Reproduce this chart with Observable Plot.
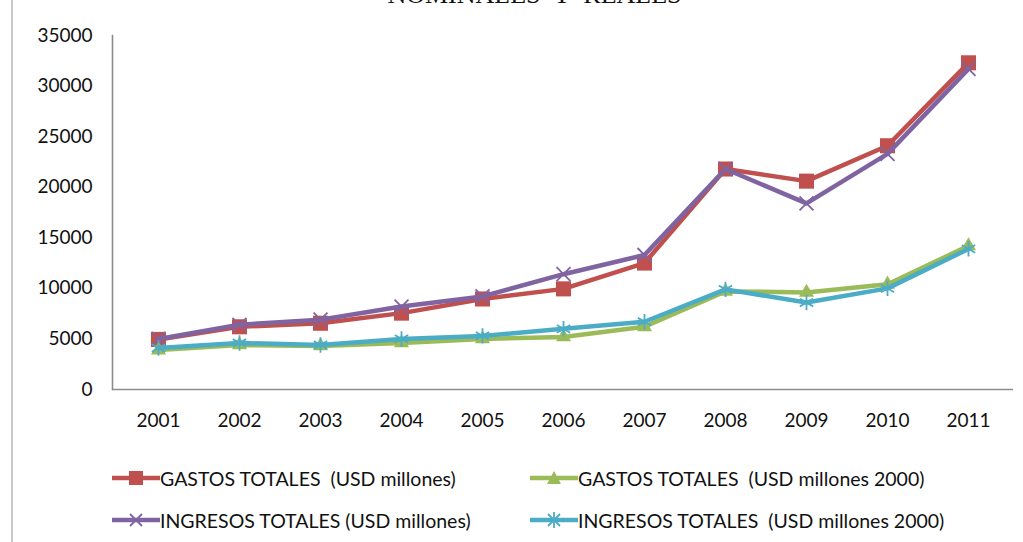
<!DOCTYPE html>
<html>
<head>
<meta charset="utf-8">
<script src="https://cdn.jsdelivr.net/npm/d3@7"></script>
<script src="https://cdn.jsdelivr.net/npm/@observablehq/plot@0.6"></script>
<style>
  html, body { margin: 0; padding: 0; background: #fff; }
  body { width: 1023px; height: 542px; position: relative; overflow: hidden; font-family: Lato, "Open Sans", sans-serif; }
  #border { position: absolute; left: 11px; top: 0; width: 2px; height: 542px; background: #c9c9c9; }
  #title { position: absolute; left: 23px; width: 1023px; top: -18px; text-align: center; font-family: "Liberation Serif", "DejaVu Serif", serif; font-size: 26px; line-height: 26px; color: #111; white-space: pre; }
  #chart { position: absolute; left: 0; top: 0; }
  .leg { position: absolute; display: flex; align-items: center; font-size: 19.5px; color: #111; white-space: pre; }
  .leg svg { display: block; }
</style>
</head>
<body>
<div id="border"></div>
<div id="title">NOMINALES  Y  REALES</div>
<div id="chart"></div>
<div id="legend"></div>
<script>
const years = ["2001","2002","2003","2004","2005","2006","2007","2008","2009","2010","2011"];
const gastosNominal   = [4950, 6200, 6550, 7550, 8950, 9950, 12500, 21800, 20600, 24100, 32300];
const gastosReal      = [3900, 4400, 4300, 4600, 5000, 5200, 6200, 9700, 9600, 10400, 14200];
const ingresosNominal = [5000, 6400, 6900, 8200, 9200, 11400, 13300, 21800, 18400, 23300, 31700];
const ingresosReal    = [4100, 4600, 4400, 5000, 5300, 6000, 6700, 9900, 8600, 10000, 13900];
const seriesNames = [
  "GASTOS TOTALES  (USD millones)",
  "GASTOS TOTALES  (USD millones 2000)",
  "INGRESOS TOTALES (USD millones)",
  "INGRESOS TOTALES  (USD millones 2000)"
];
const seriesValues = [gastosNominal, gastosReal, ingresosNominal, ingresosReal];
const seriesColors = ["#C0504D", "#9BBB59", "#8064A2", "#4BACC6"];
const seriesSymbols = ["square", "triangle", "times", "asterisk"];
const yTicks = [0, 5000, 10000, 15000, 20000, 25000, 30000, 35000];

const rows = [];
seriesNames.forEach((name, i) => {
  years.forEach((yr, j) => rows.push({series: name, idx: i, year: yr, value: seriesValues[i][j]}));
});

const marks = [
  Plot.ruleY([0], {stroke: "#8c8c8c", strokeWidth: 1.6}),
  Plot.frame({anchor: "left", stroke: "#8c8c8c", strokeWidth: 1.6}),
  Plot.axisY({ticks: yTicks, tickSize: 0, tickPadding: 20, tickFormat: d3.format("d"), fontSize: 19, fill: "#111"}),
  Plot.axisX({tickSize: 0, tickPadding: 24, fontSize: 19, fill: "#111"})
];
seriesNames.forEach((name, i) => {
  const d = rows.filter(r => r.idx === i);
  marks.push(Plot.line(d, {x: "year", y: "value", stroke: seriesColors[i], strokeWidth: 4.5, strokeLinejoin: "round"}));
  const sym = seriesSymbols[i];
  const filled = sym === "square" || sym === "triangle";
  const rr = {square: 8.5, triangle: 5.6, times: 6.4, asterisk: 7.3}[sym];
  marks.push(Plot.dot(d, filled
    ? {x: "year", y: "value", symbol: sym, r: rr, fill: seriesColors[i], stroke: "none"}
    : {x: "year", y: "value", symbol: sym, r: rr, stroke: seriesColors[i], strokeWidth: 1.8, fill: "none"}));
});

const chart = Plot.plot({
  width: 1023,
  height: 440,
  marginLeft: 112,
  marginRight: 10,
  marginTop: 35,
  marginBottom: 51,
  style: {fontFamily: "Lato, 'Open Sans', sans-serif", background: "transparent"},
  x: {type: "point", domain: years, padding: 0.5, label: null},
  y: {domain: [0, 35000], label: null},
  marks
});
document.getElementById("chart").appendChild(chart);

// legend
const legendPos = [[112, 478], [530, 478], [112, 520], [530, 520]];
const legend = document.getElementById("legend");
seriesNames.forEach((name, i) => {
  const el = document.createElement("div");
  el.className = "leg";
  el.style.left = legendPos[i][0] + "px";
  el.style.top = (legendPos[i][1] - 12) + "px";
  el.style.height = "24px";
  const c = seriesColors[i];
  let marker = "";
  if (seriesSymbols[i] === "square") marker = `<rect x="17" y="5" width="14" height="14" fill="${c}"/>`;
  if (seriesSymbols[i] === "triangle") marker = `<path d="M24,5 L31,18 L17,18 Z" fill="${c}"/>`;
  if (seriesSymbols[i] === "times") marker = `<path d="M18,6 L30,18 M30,6 L18,18" stroke="${c}" stroke-width="1.8"/>`;
  if (seriesSymbols[i] === "asterisk") marker = `<path d="M18,6 L30,18 M30,6 L18,18 M24,4 L24,20" stroke="${c}" stroke-width="1.8"/>`;
  el.innerHTML = `<svg width="48" height="24"><line x1="0" y1="12" x2="48" y2="12" stroke="${c}" stroke-width="4.5"/>${marker}</svg><span>${name}</span>`;
  legend.appendChild(el);
});
</script>
</body>
</html>
